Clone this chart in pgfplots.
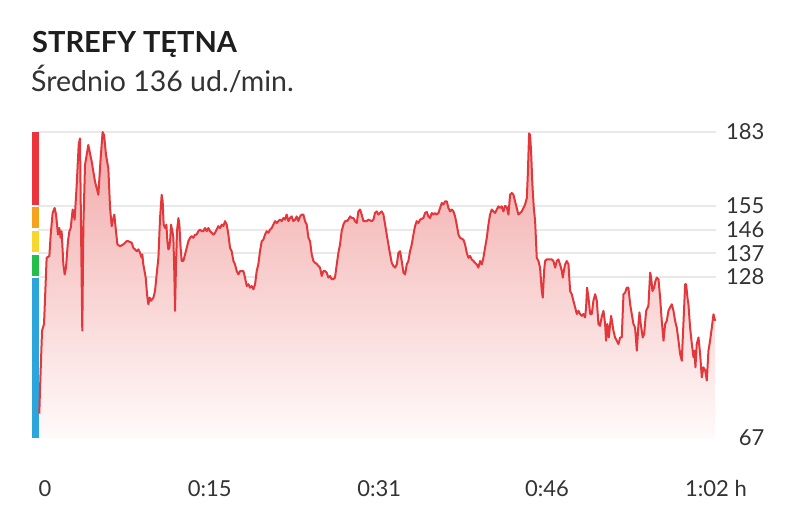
\documentclass[border=0pt]{standalone}
\usepackage{fontspec}
\setmainfont{Lato}
\usepackage{pgfplots}
\usepackage{pgfplotstable}
\pgfplotsset{compat=1.18}
\definecolor{hrline}{RGB}{226,56,60}
\definecolor{filltop}{RGB}{242,168,168}
\definecolor{fillbot}{RGB}{255,250,250}
\definecolor{gridgray}{RGB}{233,233,233}
\definecolor{labcol}{RGB}{51,51,51}
\definecolor{titlecol}{RGB}{30,30,30}
\definecolor{zred}{RGB}{236,52,58}
\definecolor{zorange}{RGB}{246,162,28}
\definecolor{zyellow}{RGB}{248,214,48}
\definecolor{zgreen}{RGB}{34,192,74}
\definecolor{zblue}{RGB}{43,165,220}
\pgfplotstableread{
t bpm
0.12 76.2
0.18 85
0.37 107.7
0.55 110.2
0.79 135.3
1.04 136
1.16 144.1
1.34 152.3
1.52 154.2
1.65 151.7
1.83 144.1
1.95 146.6
2.07 142.9
2.16 145.4
2.32 132.8
2.44 129
2.56 131.6
2.74 141.6
2.87 145.4
2.99 146.6
3.17 153.6
3.35 149.8
3.54 163
3.72 178.1
3.84 180.6
3.93 147.9
4.05 107.7
4.15 147.9
4.30 170.5
4.60 178.1
4.91 171.8
5.21 164.3
5.52 159.2
5.73 173.1
5.91 183
6.04 181.9
6.22 174.3
6.43 169.3
6.59 154.2
6.74 147.3
6.89 150.4
6.98 151.7
7.13 145.4
7.26 140.4
7.50 139.7
7.80 140.4
8.10 141.6
8.26 141.6
8.57 141
8.72 139.1
8.87 138.5
9.02 137.8
9.18 138.5
9.33 137.2
9.48 135.3
9.54 136.6
9.63 132.8
9.85 127.8
9.97 121.5
10.09 117.7
10.21 120.2
10.34 119
10.55 120.2
10.70 122.7
10.85 129
11.01 135.3
11.16 150.4
11.31 159.2
11.40 156.7
11.49 147.9
11.62 146.6
11.74 147.9
11.83 141.6
11.92 138.5
12.01 139.1
12.10 142.9
12.16 147.9
12.29 145.4
12.38 142.9
12.47 129
12.53 115.2
12.62 132.8
12.71 145.4
12.84 150.4
12.93 147.9
13.02 140.4
13.14 134.1
13.29 134.1
13.45 136.6
13.60 139.1
13.75 141.6
13.90 142.9
14.05 143.5
14.21 142.9
14.36 144.1
14.51 144.1
14.66 145.4
14.82 146
14.97 145.4
15.12 145.4
15.27 146.6
15.43 145.4
15.58 146.6
15.73 145.4
15.88 144.8
16.04 144.1
16.19 144.8
16.34 146
16.49 147.3
16.65 146.6
16.80 147.9
16.95 147.3
17.10 149.2
17.26 147.9
17.41 144.1
17.56 139.1
17.71 137.8
17.87 134.1
18.02 132.8
18.17 130.3
18.32 129
18.48 130.3
18.78 130.3
18.93 127.8
19.09 124.6
19.24 125.3
19.39 124
19.54 124.6
19.70 123.4
19.85 125.3
20.00 130.3
20.15 132.8
20.30 137.8
20.46 141.6
20.61 142.2
20.76 144.1
20.91 145.4
21.07 144.8
21.22 146
21.37 146.6
21.52 147.9
21.68 149.2
21.83 148.5
21.98 149.2
22.13 149.8
22.29 149.2
22.44 150.4
22.59 149.8
22.74 151.7
22.90 149.2
23.05 150.4
23.20 151
23.35 149.2
23.51 149.8
23.66 151
23.81 149.2
23.96 151
24.12 151.7
24.27 151.7
24.42 149.2
24.57 147.9
24.73 142.9
24.88 141.6
25.03 136.6
25.18 134.1
25.34 133.4
25.49 133
25.64 132.2
25.79 131.6
25.94 128.4
26.10 130.3
26.25 130.3
26.40 129.7
26.55 127.8
26.71 128.4
26.86 127.2
27.01 127.2
27.16 127.8
27.32 132.8
27.47 137.2
27.62 140.4
27.77 145.4
27.93 147.9
28.08 149.2
28.23 149.2
28.38 149.8
28.54 151
28.69 150.4
28.84 150.4
28.99 149.2
29.15 148.5
29.30 152.9
29.45 153.6
29.60 151.7
29.76 149.2
30.06 149.2
30.21 149.8
30.52 149.2
30.67 149.8
30.82 152.3
30.98 152.9
31.13 151.7
31.28 152.3
31.43 152.9
31.59 151.7
31.74 147.9
31.89 144.1
32.04 140.4
32.20 136.6
32.35 133.4
32.50 132.2
32.65 131.6
32.81 132.8
32.96 137.2
33.11 137.8
33.26 134.1
33.42 129.7
33.57 129
33.72 132.8
33.87 134.1
34.02 137.8
34.18 140.4
34.33 144.1
34.48 147.3
34.63 149.2
34.79 148.5
34.94 149.8
35.24 150.4
35.40 152.3
35.55 152.7
35.70 151
35.85 150.4
36.01 152.3
36.16 151.7
36.31 152.3
36.46 151.7
36.62 152.3
36.77 154.2
36.92 156.1
37.07 155.5
37.23 156.7
37.38 156.7
37.53 154.2
37.68 152.9
37.84 153.6
37.99 152.9
38.14 151
38.29 147.9
38.45 144.1
38.60 142.9
38.90 142.2
39.05 140.4
39.21 137.2
39.36 135.3
39.51 136
39.66 134.7
39.82 134.1
39.97 133.4
40.12 132.8
40.27 131.6
40.43 134.1
40.58 132.8
40.73 135.3
40.88 139.1
41.04 142.9
41.19 147.9
41.34 151.7
41.49 153.6
41.65 152.9
41.80 152.3
41.95 153.6
42.10 154.8
42.26 154.2
42.41 154.8
42.56 152.9
42.71 155
42.87 154.5
43.02 151.7
43.17 159.2
43.32 159.9
43.48 159.2
43.63 156.7
43.78 154.2
43.93 151.7
44.09 152.3
44.24 152.9
44.39 154.2
44.54 155.5
44.70 158
44.79 166.8
44.91 182.5
45.00 181.9
45.09 175.6
45.21 163
45.34 154.2
45.46 149.2
45.61 135.3
45.76 134.1
45.91 131.6
46.07 122.7
46.16 120.2
46.28 130.3
46.37 134.1
46.52 134.7
46.83 134.7
46.98 134.7
47.13 134.1
47.29 131.6
47.44 134.1
47.59 134.7
47.74 132.8
47.90 130.3
47.99 127.8
48.08 130.3
48.20 132.8
48.35 134.1
48.51 132.8
48.66 122.7
48.81 121.5
48.96 119
49.12 116.5
49.27 114
49.42 115.2
49.57 114
49.73 113.3
49.88 114
50.03 112.7
50.12 116.5
50.21 124
50.34 120.2
50.49 114
50.64 114
50.79 119
50.95 121.5
51.10 119
51.25 110.2
51.40 109.5
51.55 113
51.71 115.2
51.86 110.2
51.95 103.9
52.07 110.2
52.20 105.1
52.32 110.2
52.41 113.3
52.53 110.2
52.62 107.7
52.77 105.1
52.93 103.9
53.08 102.6
53.23 105.1
53.38 105.1
53.54 121.5
53.69 122.1
53.84 124
53.99 124
54.15 117.7
54.30 113.9
54.45 110.2
54.60 108.9
54.76 100.1
54.91 110.2
55.00 114.6
55.12 110.2
55.30 105.1
55.43 106.4
55.61 115.2
55.82 117.1
55.98 129.7
56.07 127.8
56.19 122.7
56.34 124
56.46 126.5
56.59 127.8
56.74 127.2
56.89 120.2
57.04 111.4
57.20 103.9
57.35 110.2
57.50 111.4
57.65 115.2
57.80 116.5
57.96 117.7
58.11 115.2
58.26 111.4
58.41 108.9
58.57 103.9
58.72 98.8
58.87 96.3
59.02 110.2
59.18 125.3
59.27 125.3
59.39 120.2
59.48 117.7
59.63 108.9
59.79 102.6
59.94 97.6
60.03 100.1
60.12 93.8
60.24 102.6
60.40 105.1
60.55 98.8
60.70 90
60.85 93.8
61.01 92.6
61.16 88.8
61.31 100.1
61.46 103.9
61.62 108.9
61.77 113.9
61.92 111.4
}\hrdata
\begin{document}
\begin{tikzpicture}[x=1pt,y=1pt]
\fill[white] (0,0) rectangle (800,508);
\node[anchor=base west, inner sep=0pt, font=\fontsize{29}{32}\selectfont\bfseries, text=titlecol] at (32,455) {STREFY TĘTNA};
\node[anchor=base west, inner sep=0pt, font=\fontsize{28.5}{32}\selectfont, text=labcol] at (31,416) {Średnio 136 ud./min.};
\begin{axis}[
  at={(38pt,70pt)}, anchor=south west,
  width=678pt, height=306pt, scale only axis,
  xmin=0, xmax=62, ymin=67, ymax=183,
  clip=false,
  axis line style={draw=none},
  major tick length=0pt,
  /pgf/number format/assume math mode=true,
  ytick={128,137,146,155,183},
  extra y ticks={67},
  extra y tick style={grid=none},
  ymajorgrids,
  grid style={gridgray, line width=2pt},
  yticklabel pos=right,
  yticklabel style={anchor=east, xshift=52pt, font=\fontsize{22}{24}\selectfont, text=labcol},
  xtick={0.64,15.7,31.2,46.55,62},
  xticklabels={0,0:15,0:31,0:46,1:02 h},
  xticklabel style={anchor=base, yshift=-59pt, font=\fontsize{22}{24}\selectfont, text=labcol},
]
\addplot[draw=none, shade, top color=filltop, bottom color=fillbot, forget plot] table[x=t, y=bpm] {\hrdata} -- (axis cs:61.92,67) -- (axis cs:0.12,67) -- cycle;
\fill[zred] ([xshift=-6.5pt]axis cs:0,155.5) rectangle ([xshift=1pt]axis cs:0,183);
\fill[zorange] ([xshift=-6.5pt]axis cs:0,146.5) rectangle ([xshift=1pt]axis cs:0,154.5);
\fill[zyellow] ([xshift=-6.5pt]axis cs:0,137.5) rectangle ([xshift=1pt]axis cs:0,145.5);
\fill[zgreen] ([xshift=-6.5pt]axis cs:0,128.5) rectangle ([xshift=1pt]axis cs:0,136.5);
\fill[zblue] ([xshift=-6.5pt]axis cs:0,67) rectangle ([xshift=1pt]axis cs:0,127.5);
\addplot[hrline, line width=2pt, line join=round, mark=none] table[x=t, y=bpm] {\hrdata};
\end{axis}
\pgfresetboundingbox
\path[use as bounding box] (0,0) rectangle (800,508);
\end{tikzpicture}
\end{document}
